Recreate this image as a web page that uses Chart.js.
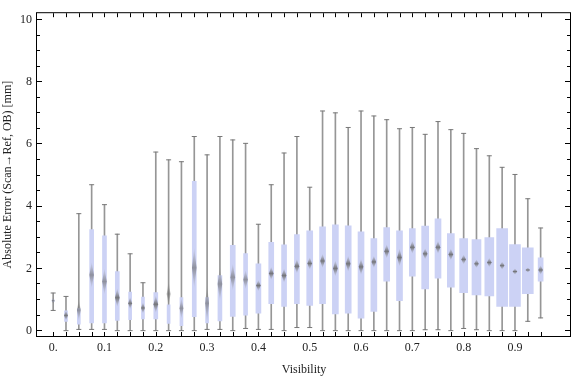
<!DOCTYPE html>
<html>
<head>
<meta charset="utf-8">
<script src="https://cdn.jsdelivr.net/npm/chart.js@4.4.1/dist/chart.umd.min.js"></script>
<style>
  html, body { margin: 0; padding: 0; background: #fff; }
  canvas { display: block; }
</style>
</head>
<body>
<canvas id="chart" width="576" height="377"></canvas>
<script>
// visibility bins (box centres)
const visibility = [0, 0.025, 0.05, 0.075, 0.1, 0.125, 0.15, 0.175, 0.2, 0.225, 0.25, 0.275, 0.3, 0.325,
  0.35, 0.375, 0.4, 0.425, 0.45, 0.475, 0.5, 0.525, 0.55, 0.575, 0.6, 0.625, 0.65, 0.675, 0.7, 0.725,
  0.75, 0.775, 0.8, 0.825, 0.85, 0.875, 0.9, 0.925, 0.95];

// whisker ends, quartiles, mean and half-height of mean diamond (mm)
const whiskerLow = [0.65, 0.0, 0.04, 0.04, 0.04, 0.0, 0.0, 0.0, 0.0, 0.0, 0.0, 0.0, 0.04, 0.04,
  0.0, 0.07, 0.04, 0.04, 0.0, 0.10, 0.10, 0.0, 0.0, 0.0, 0.0, 0.0, 0.0, 0.0, 0.0, 0.03,
  0.03, 0.0, 0.07, 0.03, 0.0, 0.0, 0.0, 0.30, 0.41];
const quart1 = [0.93, 0.30, 0.21, 0.25, 0.25, 0.33, 0.35, 0.38, 0.38, 0.23, 0.16, 0.45, 0.25, 0.31,
  0.46, 0.50, 0.56, 0.87, 0.78, 0.87, 0.81, 0.87, 0.54, 0.56, 0.40, 0.62, 1.59, 0.96, 1.75, 1.34,
  1.69, 1.40, 1.22, 1.15, 1.12, 0.78, 0.78, 1.19, 1.59];
const quart3 = [0.99, 0.64, 0.71, 3.25, 3.05, 1.90, 1.24, 1.08, 1.22, 0.83, 1.06, 4.80, 1.06, 1.77,
  2.74, 2.48, 2.15, 2.84, 2.76, 3.09, 3.21, 3.34, 3.40, 3.37, 3.18, 2.96, 3.31, 3.21, 3.28, 3.36,
  3.59, 3.12, 2.96, 2.93, 2.99, 3.28, 2.77, 2.66, 2.34];
const whiskerHigh = [1.21, 1.10, 3.76, 4.69, 4.05, 3.10, 2.47, 1.54, 5.74, 5.49, 5.43, 6.24, 5.65, 6.24,
  6.13, 6.02, 3.42, 4.69, 5.71, 6.24, 4.61, 7.06, 7.00, 6.53, 7.06, 6.90, 6.78, 6.49, 6.53, 6.31,
  6.72, 6.46, 6.34, 5.85, 5.62, 5.25, 5.02, 4.24, 3.30];
const meanErr = [0.96, 0.49, 0.66, 1.79, 1.58, 1.06, 0.88, 0.73, 0.85, 1.18, 0.72, 2.02, 0.88, 1.50,
  1.72, 1.64, 1.45, 1.84, 1.77, 2.07, 2.16, 2.24, 2.00, 2.15, 2.05, 2.21, 2.55, 2.35, 2.68, 2.47,
  2.68, 2.45, 2.29, 2.15, 2.19, 2.09, 1.90, 1.95, 1.95];
const meanCI = [0.10, 0.17, 0.35, 0.42, 0.42, 0.30, 0.20, 0.18, 0.28, 0.42, 0.34, 0.65, 0.62, 0.55,
  0.44, 0.31, 0.18, 0.21, 0.23, 0.23, 0.20, 0.23, 0.26, 0.26, 0.26, 0.20, 0.23, 0.29, 0.21, 0.18,
  0.21, 0.19, 0.16, 0.14, 0.15, 0.13, 0.10, 0.08, 0.15];

// tick labels
const xLabelAt = [0, 0.1, 0.2, 0.3, 0.4, 0.5, 0.6, 0.7, 0.8, 0.9];
const xLabels = ['0.', '0.1', '0.2', '0.3', '0.4', '0.5', '0.6', '0.7', '0.8', '0.9'];
const yMinorTicks = [0, 0.5, 1, 1.5, 2, 2.5, 3, 3.5, 4, 4.5, 5, 5.5, 6, 6.5, 7, 7.5, 8, 8.5, 9, 9.5, 10];
const yLabelAt = [0, 2, 4, 6, 8, 10];
const yLabels = ['0', '2', '4', '6', '8', '10'];

// styling: box widths in px (drawn wider where there is more data)
const boxWidthPx = [2, 3, 3, 4, 4, 4, 3, 3, 4, 3, 3, 4, 3, 4, 5, 4, 5, 5, 5, 5, 6, 6, 6, 6, 6, 6, 6, 6, 6, 7,
  6, 7, 8, 9, 9, 11, 11, 11, 5];

const BOX = 'rgb(204,210,245)';
const WHISK = 'rgb(150,150,150)';
const TXT = '#222';
const FONT = { family: '"Liberation Serif", "DejaVu Serif", serif', size: 12 };

function labelFor(v, at, labels) {
  const k = at.findIndex(t => Math.abs(t - v) < 1e-6);
  return k >= 0 ? labels[k] : '';
}

const boxSets = [...new Set(boxWidthPx)].map(w => ({
  type: 'bar',
  data: visibility.map((v, i) => boxWidthPx[i] === w ? { x: v, y: [quart1[i], quart3[i]] } : null).filter(Boolean),
  backgroundColor: BOX,
  borderWidth: 0,
  grouped: false,
  barPercentage: 1,
  categoryPercentage: 1,
  maxBarThickness: w,
  order: 2
}));

const whiskerSet = {
  type: 'bar',
  data: visibility.map((v, i) => ({ x: v, y: [whiskerLow[i], whiskerHigh[i]] })),
  backgroundColor: WHISK,
  borderWidth: 0,
  grouped: false,
  barPercentage: 1,
  categoryPercentage: 1,
  maxBarThickness: 1,
  order: 3
};

const capSet = {
  type: 'line',
  data: visibility.flatMap((v, i) => [{ x: v, y: whiskerHigh[i] }, { x: v, y: whiskerLow[i] }]),
  showLine: false,
  pointStyle: 'line',
  pointRadius: 2.5,
  pointBorderColor: 'rgb(120,120,120)',
  pointBorderWidth: 1,
  order: 1
};

// frame, inward ticks and mean diamonds
const framePlugin = {
  id: 'frame',
  afterDatasetsDraw(chart) {
    const { ctx, chartArea: a, scales: { x, y } } = chart;
    ctx.save();
    visibility.forEach((v, i) => {
      const cx = x.getPixelForValue(v);
      const cy = y.getPixelForValue(meanErr[i]);
      const top = y.getPixelForValue(meanErr[i] + meanCI[i]);
      const bot = y.getPixelForValue(meanErr[i] - meanCI[i]);
      const hw = Math.min(2.3, boxWidthPx[i] / 2 + 0.4);
      const peak = meanCI[i] > 0.3 ? 0.6 : 0.85;
      const g = ctx.createLinearGradient(0, top, 0, bot);
      g.addColorStop(0, 'rgba(140,140,140,0.05)');
      g.addColorStop(0.5, 'rgba(100,100,100,' + peak + ')');
      g.addColorStop(1, 'rgba(140,140,140,0.05)');
      ctx.fillStyle = g;
      ctx.beginPath();
      ctx.moveTo(cx, top);
      ctx.lineTo(cx + hw, cy);
      ctx.lineTo(cx, bot);
      ctx.lineTo(cx - hw, cy);
      ctx.closePath();
      ctx.fill();
    });

    ctx.strokeStyle = '#000';
    ctx.lineWidth = 1;
    ctx.strokeRect(a.left - 0.5, a.top + 0.5, a.right - a.left, a.bottom - a.top - 1);
    ctx.beginPath();
    x.ticks.forEach(t => {
      const px = Math.round(x.getPixelForValue(t.value)) + 0.5;
      ctx.moveTo(px, a.bottom - 1); ctx.lineTo(px, a.bottom - 5);
      ctx.moveTo(px, a.top + 1); ctx.lineTo(px, a.top + 5);
    });
    y.ticks.forEach(t => {
      const py = Math.floor(y.getPixelForValue(t.value)) + 0.5;
      const len = yLabelAt.includes(t.value) ? 5 : 3;
      ctx.moveTo(a.left, py); ctx.lineTo(a.left + len, py);
      ctx.moveTo(a.right - 1, py); ctx.lineTo(a.right - 1 - len, py);
    });
    ctx.stroke();
    ctx.restore();
  }
};

new Chart(document.getElementById('chart'), {
  type: 'bar',
  data: { datasets: [whiskerSet, ...boxSets, capSet] },
  options: {
    responsive: false,
    animation: false,
    devicePixelRatio: 1,
    layout: { padding: { left: 0, right: 0, top: 4, bottom: 0 } },
    plugins: { legend: { display: false }, tooltip: { enabled: false } },
    scales: {
      x: {
        type: 'linear',
        min: -0.0315,
        max: 1.0092,
        offset: false,
        grid: { display: false, drawTicks: false },
        border: { display: false },
        afterBuildTicks: s => { s.ticks = visibility.map(v => ({ value: v })); },
        afterFit: s => { s.height = 40; },
        ticks: {
          autoSkip: false, maxRotation: 0, padding: 4, color: TXT, font: FONT,
          callback: v => labelFor(v, xLabelAt, xLabels)
        },
        title: { display: true, text: 'Visibility', color: TXT, font: FONT, padding: { top: 0, bottom: 0 } }
      },
      y: {
        min: -0.204,
        max: 10.235,
        grid: { display: false, drawTicks: false },
        border: { display: false },
        afterBuildTicks: s => { s.ticks = yMinorTicks.map(v => ({ value: v })); },
        afterFit: s => { s.width = 37; },
        ticks: {
          autoSkip: false, padding: 5, color: TXT, font: FONT,
          callback: v => labelFor(v, yLabelAt, yLabels)
        },
        title: { display: true, text: 'Absolute Error (Scan\u2192Ref, OB) [mm]', color: TXT, font: FONT, padding: { top: 1, bottom: 0 } }
      }
    }
  },
  plugins: [framePlugin]
});
</script>
</body>
</html>
